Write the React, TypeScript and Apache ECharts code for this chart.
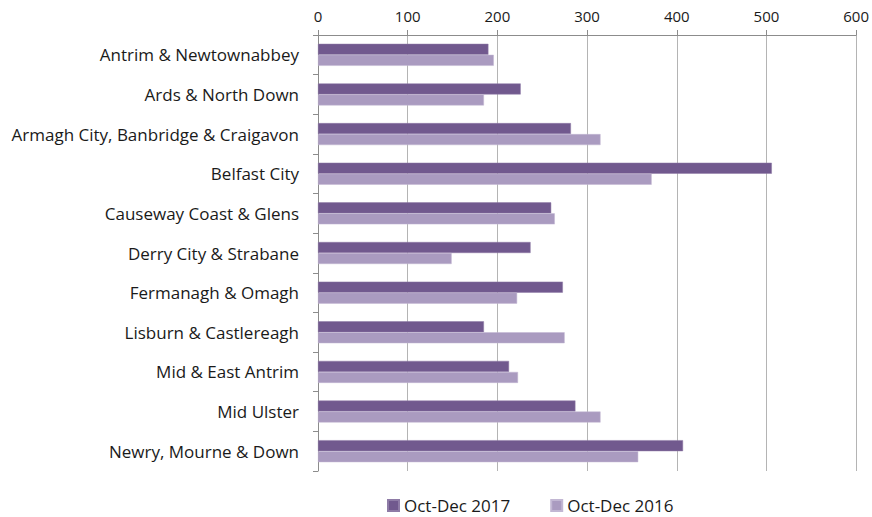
import React, { useEffect, useRef } from "react";
import * as echarts from "echarts";

const categories = [
  "Antrim & Newtownabbey",
  "Ards & North Down",
  "Armagh City, Banbridge & Craigavon",
  "Belfast City",
  "Causeway Coast & Glens",
  "Derry City & Strabane",
  "Fermanagh & Omagh",
  "Lisburn & Castlereagh",
  "Mid & East Antrim",
  "Mid Ulster",
  "Newry, Mourne & Down",
];
const seriesNames = ["Oct-Dec 2017", "Oct-Dec 2016"];
const values2017 = [190, 226, 282, 506, 260, 237, 273, 185, 213, 287, 407];
const values2016 = [196, 185, 315, 372, 264, 149, 222, 275, 223, 315, 357];
const xMin = 0;
const xMax = 600;
const xInterval = 100;

export default function App() {
  const ref = useRef<HTMLDivElement>(null);
  useEffect(() => {
    if (!ref.current) return;
    const chart = echarts.init(ref.current, undefined, { renderer: "svg" });
    const font = "'Open Sans', sans-serif";
    chart.setOption({
      animation: false,
      textStyle: { fontFamily: font },
      grid: { left: 318, right: 12, top: 35, bottom: 46, containLabel: false },
      legend: {
        data: seriesNames,
        top: 497,
        left: 387,
        padding: 0,
        itemWidth: 11,
        itemHeight: 11,
        itemGap: 40,
        icon: "rect",
        textStyle: { fontFamily: font, fontSize: 17, color: "#1a1a1a" },
      },
      xAxis: {
        type: "value",
        position: "top",
        min: xMin,
        max: xMax,
        interval: xInterval,
        axisLine: { show: true, lineStyle: { color: "#8c8c8c", width: 1 } },
        axisTick: { show: true, length: 5, lineStyle: { color: "#8c8c8c" } },
        axisLabel: { fontFamily: font, fontSize: 15, color: "#1a1a1a", margin: 12 },
        splitLine: { show: true, lineStyle: { color: "#b4b4b4", width: 1 } },
      },
      yAxis: {
        type: "category",
        data: categories,
        inverse: true,
        axisLine: { show: true, lineStyle: { color: "#8c8c8c", width: 1 } },
        axisTick: { show: true, length: 5, lineStyle: { color: "#8c8c8c" } },
        axisLabel: { fontFamily: font, fontSize: 17, color: "#1a1a1a", margin: 19 },
      },
      series: [
        {
          name: seriesNames[0],
          type: "bar",
          data: values2017,
          barWidth: 11,
          barGap: "0%",
          itemStyle: { color: "#71598e", borderColor: "#8e7ba6", borderWidth: 0.5 },
        },
        {
          name: seriesNames[1],
          type: "bar",
          data: values2016,
          barWidth: 11,
          barGap: "0%",
          itemStyle: { color: "#aa9bc0", borderColor: "#c2b7d3", borderWidth: 0.5 },
        },
      ],
    });
    return () => chart.dispose();
  }, []);
  return <div ref={ref} style={{ width: 872, height: 517, position: "absolute", left: 0, top: 0 }} />;
}
